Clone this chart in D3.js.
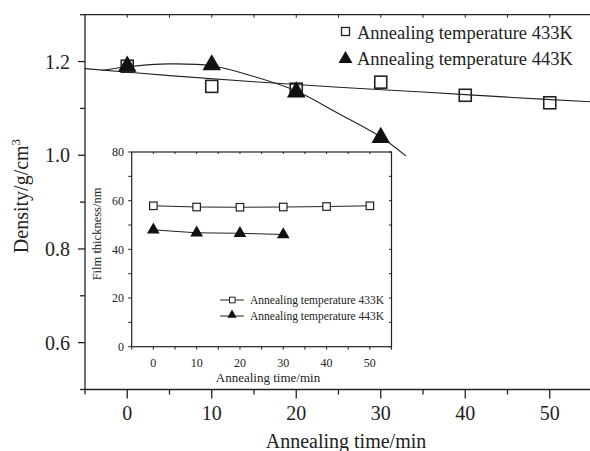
<!DOCTYPE html>
<html>
<head>
<meta charset="utf-8">
<script src="https://d3js.org/d3.v7.min.js"></script>
<style>
  html, body { margin: 0; padding: 0; background: #fff; }
  svg { display: block; }
</style>
</head>
<body>
<div id="chart"></div>
<script>
// main chart: density vs annealing time
const times = [0, 10, 20, 30, 40, 50];
const density433 = [1.190, 1.147, 1.141, 1.156, 1.128, 1.112];
const times443 = [0, 10, 20, 30];
const density443 = [1.192, 1.195, 1.137, 1.040];

// fitted curves
const fit433X = [-5, 5, 15, 25, 35, 45, 55];
const fit433Y = [1.185, 1.170, 1.157, 1.145, 1.135, 1.124, 1.114];
const fit443X = [-3, 0, 5, 10, 15, 20, 25, 30, 33];
const fit443Y = [1.181, 1.189, 1.195, 1.191, 1.168, 1.137, 1.089, 1.039, 0.998];

// inset: film thickness
const thick433 = [57.9, 57.4, 57.3, 57.4, 57.6, 57.9];
const thick443 = [48.0, 46.8, 46.6, 46.1];

const legendLabels = ["Annealing temperature 433K", "Annealing temperature 443K"];
const yTicksMain = [0.6, 0.8, 1.0, 1.2];
const xTicksMain = [0, 10, 20, 30, 40, 50];
const yTicksInset = [0, 20, 40, 60, 80];

const W = 590, H = 451;
const ink = "#222";
const serif = "'Liberation Serif', 'Times New Roman', Times, serif";

const svg = d3.select("#chart").append("svg")
  .attr("width", W)
  .attr("height", H)
  .attr("font-family", serif)
  .style("font-family", serif);

// ---------- main plot ----------
const x = d3.scaleLinear().domain([-5, 55]).range([85, 592]);
const y = d3.scaleLinear().domain([0.5, 1.3]).range([389.5, 14.7]);

const main = svg.append("g");

// frame lines (left + bottom + top)
main.append("line")
  .attr("x1", x(-5)).attr("x2", x(-5))
  .attr("y1", y(1.3)).attr("y2", y(0.5))
  .attr("stroke", ink).attr("stroke-width", 1.3);
main.append("line")
  .attr("x1", x(-5)).attr("x2", W)
  .attr("y1", y(0.5)).attr("y2", y(0.5))
  .attr("stroke", ink).attr("stroke-width", 1.3);
main.append("line")
  .attr("x1", x(-5)).attr("x2", W)
  .attr("y1", y(1.3)).attr("y2", y(1.3))
  .attr("stroke", ink).attr("stroke-width", 1.3);

// left ticks (outward)
d3.range(0.5, 1.31, 0.1).forEach(v => {
  const major = yTicksMain.some(t => Math.abs(t - v) < 1e-6);
  main.append("line")
    .attr("x1", x(-5) - (major ? 7 : 5)).attr("x2", x(-5))
    .attr("y1", y(v)).attr("y2", y(v))
    .attr("stroke", ink).attr("stroke-width", 1.3);
});
yTicksMain.forEach(v => {
  main.append("text")
    .attr("x", 70).attr("y", y(v))
    .attr("dy", "0.35em")
    .attr("text-anchor", "end")
    .attr("font-size", 20)
    .attr("fill", ink)
    .text(v.toFixed(1));
});

// bottom ticks (outward) and top ticks (inward)
d3.range(-5, 56, 5).forEach(v => {
  const major = xTicksMain.includes(v);
  main.append("line")
    .attr("x1", x(v)).attr("x2", x(v))
    .attr("y1", y(0.5)).attr("y2", y(0.5) + (major ? 9 : 5))
    .attr("stroke", ink).attr("stroke-width", 1.3);
  if (v > -5) {
    main.append("line")
      .attr("x1", x(v)).attr("x2", x(v))
      .attr("y1", y(1.3)).attr("y2", y(1.3) + 3)
      .attr("stroke", ink).attr("stroke-width", 1);
  }
});
xTicksMain.forEach(v => {
  main.append("text")
    .attr("x", x(v)).attr("y", 420)
    .attr("text-anchor", "middle")
    .attr("font-size", 20)
    .attr("fill", ink)
    .text(v);
});

// axis titles
main.append("text")
  .attr("x", 346).attr("y", 448)
  .attr("text-anchor", "middle")
  .attr("font-size", 20)
  .attr("fill", ink)
  .text("Annealing time/min");

const yl = main.append("text")
  .attr("transform", "translate(28,196) rotate(-90)")
  .attr("text-anchor", "middle")
  .attr("font-size", 20)
  .attr("fill", ink);
yl.append("tspan").text("Density/g/cm");
yl.append("tspan").attr("font-size", 13).attr("dy", -8).text("3");

// fitted curves
const fitLine = d3.line()
  .x(d => x(d[0]))
  .y(d => y(d[1]))
  .curve(d3.curveCatmullRom.alpha(0.5));

main.append("path")
  .datum(d3.zip(fit433X, fit433Y))
  .attr("d", fitLine)
  .attr("fill", "none").attr("stroke", ink).attr("stroke-width", 1.1);
main.append("path")
  .datum(d3.zip(fit443X, fit443Y))
  .attr("d", fitLine)
  .attr("fill", "none").attr("stroke", ink).attr("stroke-width", 1.1);

// markers
const sq = 12;
main.selectAll(".sq433")
  .data(d3.zip(times, density433))
  .join("rect")
  .attr("x", d => x(d[0]) - sq / 2)
  .attr("y", d => y(d[1]) - sq / 2)
  .attr("width", sq).attr("height", sq)
  .attr("fill", "none").attr("stroke", ink).attr("stroke-width", 1.6);

const triMain = d3.symbol().type(d3.symbolTriangle).size(150);
main.selectAll(".tri443")
  .data(d3.zip(times443, density443))
  .join("path")
  .attr("d", triMain)
  .attr("transform", d => `translate(${x(d[0])},${y(d[1]) + 1})`)
  .attr("fill", "#111");

// legend
main.append("rect")
  .attr("x", 341.5).attr("y", 27.5)
  .attr("width", 8).attr("height", 8)
  .attr("fill", "none").attr("stroke", ink).attr("stroke-width", 1.3);
main.append("path")
  .attr("d", d3.symbol().type(d3.symbolTriangle).size(85))
  .attr("transform", "translate(345.5,59)")
  .attr("fill", "#111");
legendLabels.forEach((t, i) => {
  main.append("text")
    .attr("x", 357).attr("y", 38.5 + i * 26.5)
    .attr("font-size", 18.5)
    .attr("fill", ink)
    .text(t);
});

// ---------- inset ----------
const ix = d3.scaleLinear().domain([-5, 55]).range([131.7, 391.5]);
const iy = d3.scaleLinear().domain([0, 80]).range([346.7, 152]);

const inset = svg.append("g");
inset.append("rect")
  .attr("x", ix(-5)).attr("y", iy(80))
  .attr("width", ix(55) - ix(-5)).attr("height", iy(0) - iy(80))
  .attr("fill", "#fff").attr("stroke", ink).attr("stroke-width", 1.2);

d3.range(0, 81, 10).forEach(v => {
  inset.append("line")
    .attr("x1", ix(-5) - 3.5).attr("x2", ix(-5))
    .attr("y1", iy(v)).attr("y2", iy(v))
    .attr("stroke", ink).attr("stroke-width", 1);
  inset.append("line")
    .attr("x1", ix(55) - 2.5).attr("x2", ix(55))
    .attr("y1", iy(v)).attr("y2", iy(v))
    .attr("stroke", ink).attr("stroke-width", 1);
});
yTicksInset.forEach(v => {
  inset.append("text")
    .attr("x", 124).attr("y", iy(v))
    .attr("dy", "0.35em")
    .attr("text-anchor", "end")
    .attr("font-size", 12)
    .attr("fill", ink)
    .text(v);
});
d3.range(-5, 56, 5).forEach(v => {
  inset.append("line")
    .attr("x1", ix(v)).attr("x2", ix(v))
    .attr("y1", iy(0)).attr("y2", iy(0) + 3)
    .attr("stroke", ink).attr("stroke-width", 1);
  inset.append("line")
    .attr("x1", ix(v)).attr("x2", ix(v))
    .attr("y1", iy(80)).attr("y2", iy(80) + 2)
    .attr("stroke", ink).attr("stroke-width", 1);
});
xTicksMain.forEach(v => {
  inset.append("text")
    .attr("x", ix(v)).attr("y", 366.5)
    .attr("text-anchor", "middle")
    .attr("font-size", 12)
    .attr("fill", ink)
    .text(v);
});
inset.append("text")
  .attr("x", 268).attr("y", 382)
  .attr("text-anchor", "middle")
  .attr("font-size", 13)
  .attr("fill", ink)
  .text("Annealing time/min");
inset.append("text")
  .attr("transform", "translate(101,234) rotate(-90)")
  .attr("text-anchor", "middle")
  .attr("font-size", 12.5)
  .attr("fill", ink)
  .text("Film thickness/nm");

const insetLine = d3.line().x(d => ix(d[0])).y(d => iy(d[1]));
inset.append("path")
  .datum(d3.zip(times, thick433))
  .attr("d", insetLine)
  .attr("fill", "none").attr("stroke", ink).attr("stroke-width", 1);
inset.append("path")
  .datum(d3.zip(times443, thick443))
  .attr("d", insetLine)
  .attr("fill", "none").attr("stroke", ink).attr("stroke-width", 1);

const isq = 7.5;
inset.selectAll(".isq")
  .data(d3.zip(times, thick433))
  .join("rect")
  .attr("x", d => ix(d[0]) - isq / 2)
  .attr("y", d => iy(d[1]) - isq / 2)
  .attr("width", isq).attr("height", isq)
  .attr("fill", "#fff").attr("stroke", ink).attr("stroke-width", 1.2);

const triInset = d3.symbol().type(d3.symbolTriangle).size(70);
inset.selectAll(".itri")
  .data(d3.zip(times443, thick443))
  .join("path")
  .attr("d", triInset)
  .attr("transform", d => `translate(${ix(d[0])},${iy(d[1])})`)
  .attr("fill", "#111");

// inset legend
[0, 1].forEach(i => {
  const ly = 300 + i * 16;
  inset.append("line")
    .attr("x1", 220).attr("x2", 244)
    .attr("y1", ly).attr("y2", ly)
    .attr("stroke", ink).attr("stroke-width", 1);
  if (i === 0) {
    inset.append("rect")
      .attr("x", 229.5).attr("y", ly - 2.8)
      .attr("width", 5.6).attr("height", 5.6)
      .attr("fill", "#fff").attr("stroke", ink).attr("stroke-width", 1);
  } else {
    inset.append("path")
      .attr("d", d3.symbol().type(d3.symbolTriangle).size(38))
      .attr("transform", `translate(232,${ly - 1})`)
      .attr("fill", "#111");
  }
  inset.append("text")
    .attr("x", 250).attr("y", ly + 3.5)
    .attr("font-size", 11.5)
    .attr("fill", ink)
    .text(legendLabels[i]);
});
</script>
</body>
</html>
